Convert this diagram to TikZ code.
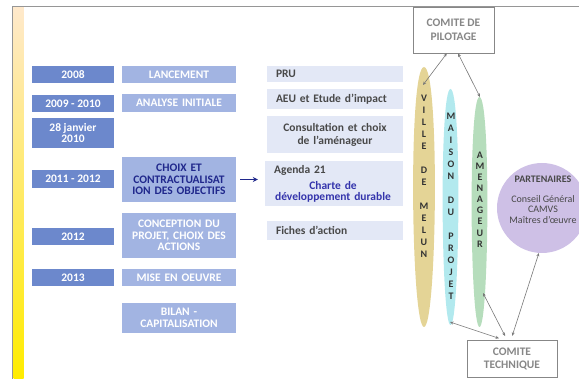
\documentclass[tikz,border=0pt]{standalone}
\usepackage{fontspec}
\setmainfont{Carlito}
\usetikzlibrary{arrows.meta}

\definecolor{yearblue}{RGB}{108,136,204}
\definecolor{phaseblue}{RGB}{162,180,226}
\definecolor{actionblue}{RGB}{227,232,246}
\definecolor{actiongrey}{RGB}{72,72,72}
\definecolor{navyblue}{RGB}{32,40,140}
\definecolor{chartblue}{RGB}{52,52,172}
\definecolor{villefill}{RGB}{228,212,150}
\definecolor{maisonfill}{RGB}{178,233,238}
\definecolor{amenfill}{RGB}{182,221,188}
\definecolor{partfill}{RGB}{206,192,230}
\definecolor{comitegrey}{RGB}{135,135,135}
\definecolor{linkgrey}{RGB}{120,120,120}
\definecolor{framegrey}{RGB}{150,150,150}

\begin{document}
\begin{tikzpicture}[x=1pt,y=-1pt,
  year/.style={fill=yearblue,text=white,font=\bfseries\fontsize{11.5}{11}\selectfont,minimum width=82pt,inner sep=0pt,align=center},
  phase/.style={fill=phaseblue,text=white,font=\bfseries\fontsize{11.5}{11.5}\selectfont,minimum width=114pt,text width=112pt,inner sep=0pt,align=center},
  action/.style={fill=actionblue,text=actiongrey,font=\bfseries\fontsize{11.5}{13}\selectfont,text width=118pt,inner xsep=9pt,inner ysep=0pt,align=left},
  leaf/.style={text=black!80,font=\bfseries\fontsize{10}{12}\selectfont,inner sep=0pt,align=center},
  comite/.style={draw=comitegrey,fill=white,text=comitegrey,font=\bfseries\fontsize{11.5}{14}\selectfont,inner sep=0pt,align=center,line width=0.8pt},
  link/.style={color=linkgrey,line width=0.6pt,>={Stealth[length=3.5pt,width=3pt]}}]

  \useasboundingbox (0,0) rectangle (579,379);
  \clip (0,0) rectangle (579,379);

  % frame and gold margin
  \shade[top color=yellow!12!orange!20,bottom color=yellow!85!orange] (13.5,6.5) rectangle (23.5,379);
  \draw[framegrey,line width=0.9pt] (12.5,379) -- (12.5,6) -- (579,6);

  % dates
  \node[year,minimum height=17pt] at (73,74.5) (y2008) {2008};
  \node[year,minimum height=17pt] at (73,103.5) (y2009) {2009 - 2010};
  \node[year,minimum height=30pt] at (73,133) (yjan) {28 janvier\\2010};
  \node[year,minimum height=18pt] at (73,179) (y2011) {2011 - 2012};
  \node[year,minimum height=17pt] at (73,236.5) (y2012) {2012};
  \node[year,minimum height=17pt] at (73,277.5) (y2013) {2013};

  % phases
  \node[phase,minimum height=17pt] at (179,74.5) (lancement) {LANCEMENT};
  \node[phase,minimum height=18pt] at (179,103) (analyse) {ANALYSE INITIALE};
  \node[phase,minimum height=45pt,text=navyblue] at (179,179.5) (choix) {CHOIX ET\\CONTRACTUALISAT\\ION DES OBJECTIFS};
  \node[phase,minimum height=45pt] at (179,235.5) (conception) {CONCEPTION DU\\PROJET, CHOIX DES\\ACTIONS};
  \node[phase,minimum height=17pt] at (179,277.5) (oeuvre) {MISE EN OEUVRE};
  \node[phase,minimum height=30pt,font=\bfseries\fontsize{11.5}{12}\selectfont] at (179,318) (bilan) {BILAN -\\CAPITALISATION};

  % actions
  \node[action,minimum height=16pt] at (335,74) (pru) {PRU};
  \node[action,minimum height=20pt] at (335,99) (aeu) {AEU et Etude d'impact};
  \node[action,minimum height=37pt,align=center] at (335,134.5) (consult) {Consultation et choix\\de l'aménageur};
  \node[action,minimum height=45pt,text width=120pt] at (334,183.5) (agenda) {};
  \node[action,fill=none,anchor=west] at (265,170) (agendatitre) {Agenda 21};
  \node[action,fill=none,text=chartblue,align=center,font=\bfseries\fontsize{11.5}{11}\selectfont] at (333,192) (charte) {Charte de\\développement durable};
  \node[action,minimum height=19pt] at (335,230.5) (fiches) {Fiches d'action};

  \path[->,navyblue,line width=1.3pt] (choix.east) edge[shorten <=4pt,shorten >=7pt,-{Stealth[length=5pt,width=5pt]}] (choix.east -| agenda.west);

  % acteurs
  \fill[villefill] (424,67) .. controls (440,67) and (437,327) .. (424,327) .. controls (411,327) and (408,67) .. (424,67);
  \fill[maisonfill] (450.5,89) .. controls (462,89) and (460,325) .. (450.5,325) .. controls (441,325) and (439,89) .. (450.5,89);
  \fill[amenfill] (479.5,97) .. controls (491,97) and (489,327) .. (479.5,327) .. controls (470,327) and (468,97) .. (479.5,97);

  \node[leaf] at (424,176.5) (ville) {V\\I\\L\\L\\E\\[12pt]D\\E\\[12pt]M\\E\\L\\U\\N};
  \node[leaf] at (451,206) (maison) {M\\A\\I\\S\\O\\N\\[12pt]D\\U\\[12pt]P\\R\\O\\J\\E\\T};
  \node[leaf,font=\bfseries\fontsize{10}{11.1}\selectfont] at (480,199.5) (amenageur) {A\\M\\E\\N\\A\\G\\E\\U\\R};

  \coordinate (villetop) at (423,85);
  \coordinate (amentop) at (480,97);
  \coordinate (maisonbas) at (450,322);
  \coordinate (amenbas) at (483,293);

  \node[circle,fill=partfill,minimum size=90pt,inner sep=0pt] at (542,208) (partenaires) {};
  \node[text=actiongrey,align=center,font=\fontsize{10}{10.5}\selectfont] at (543,200) (partexte) {\textbf{PARTENAIRES}\\[9pt]Conseil Général\\CAMVS\\Maîtres d'œuvre};

  % comites
  \node[comite,minimum width=81pt,minimum height=46pt] at (453.5,30) (pilotage) {COMITE DE\\PILOTAGE};
  \node[comite,minimum width=90pt,minimum height=37pt,font=\bfseries\fontsize{11.5}{13}\selectfont] at (512,358.5) (technique) {COMITE\\TECHNIQUE};

  \path[link,<->] (pilotage.254) edge (villetop);
  \path[link,<->] (pilotage.281) edge (amentop);
  \path[link,<->] (technique.116) edge[shorten <=4pt] (maisonbas);
  \path[link,<->] (technique.105) edge[shorten <=4pt] (amenbas);
  \path[link,<->] (technique.93) edge[shorten <=4pt] (partenaires.266);
\end{tikzpicture}
\end{document}
